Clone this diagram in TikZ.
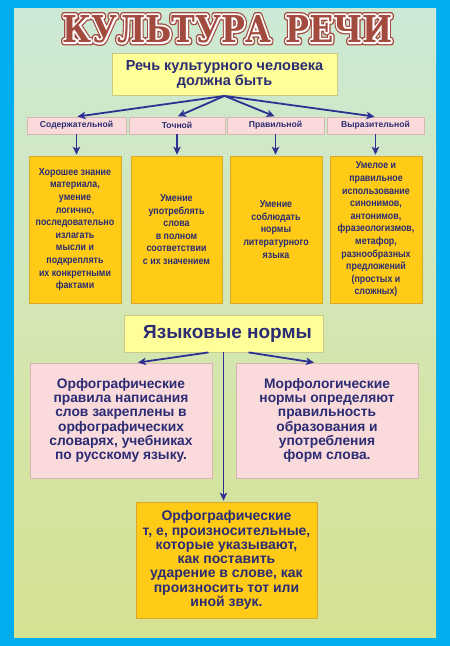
\documentclass[tikz,border=0pt]{standalone}
\usepackage{fontspec}
\setmainfont{Liberation Sans}
\newfontfamily\narrowfont[FakeStretch=0.87]{Liberation Sans}
\newfontfamily\titlefont{DejaVu Serif}
\usetikzlibrary{arrows.meta,calc}
\definecolor{frameblue}{HTML}{00AEEF}
\definecolor{bgtop}{HTML}{CCE9D6}
\definecolor{bgmid}{HTML}{D4E6B2}
\definecolor{bgbot}{HTML}{D4E291}
\definecolor{navy}{HTML}{2B2C73}
\definecolor{arrowc}{HTML}{2E3192}
\definecolor{paleyellow}{HTML}{FFFF99}
\definecolor{paleedge}{HTML}{C9C98A}
\definecolor{gold}{HTML}{FFCB16}
\definecolor{goldedge}{HTML}{D9A82A}
\definecolor{pinkfill}{HTML}{FADADB}
\definecolor{pinkedge}{HTML}{D7B5B0}
\definecolor{titlebrown}{HTML}{A34A3E}
\newcommand{\ttlword}{\scalebox{0.86}[1]{КУЛЬТУРА\hspace{0.45em}РЕЧИ}}
\newcommand{\ttlouter}{\special{pdf:literal direct q 2 Tr 6.4 w 1 j 0.639 0.29 0.243 RG}\ttlword\special{pdf:literal direct Q}}
\newcommand{\ttlring}{\special{pdf:literal direct q 2 Tr 3.8 w 1 j 1 1 1 RG}\ttlword\special{pdf:literal direct Q}}
\begin{document}
\begin{tikzpicture}[x=1pt,y=-1pt,
  hdr/.style={draw=paleedge, fill=paleyellow, line width=0.8pt, text=navy, align=center, inner sep=0pt},
  lbl/.style={draw=pinkedge, fill=pinkfill, line width=0.6pt, text=navy, align=center, inner sep=0pt,
    minimum height=17pt, font=\bfseries\fontsize{8.6}{10}\selectfont},
  goldbox/.style={draw=goldedge, fill=gold, line width=0.6pt, text=navy, align=center, inner sep=0pt,
    minimum height=147pt, font=\narrowfont\bfseries\fontsize{10.2}{12.6}\selectfont},
  pinkbox/.style={draw=pinkedge, fill=pinkfill, line width=0.6pt, text=navy, align=center, inner sep=0pt,
    minimum width=182pt, minimum height=115pt, font=\bfseries\fontsize{13.8}{14.2}\selectfont},
  arr/.style={draw=arrowc, line width=1.8pt, -{Stealth[length=8pt,width=7.5pt,inset=2pt]}, shorten >=1pt},
  titletext/.style={inner sep=0pt, text=titlebrown, font=\titlefont\bfseries\fontsize{37}{40}\selectfont}
]
\useasboundingbox (0,0) rectangle (450,646);
\fill[frameblue] (0,0) rectangle (450,646);
\shade[top color=bgtop, bottom color=bgbot, middle color=bgmid] (14,8) rectangle (436,637);

% title: outer brown ring, white ring, brown core
\node[titletext] (titleouter) at (227.5,29) {\ttlouter};
\node[titletext] (titlering) at (227.5,29) {\ttlring};
\node[titletext] (title) at (227.5,29) {\ttlword};

% header
\node[hdr, minimum width=225pt, minimum height=42pt, font=\bfseries\fontsize{14.5}{15.5}\selectfont]
  (top) at (224.5,74.5) {Речь культурного человека\\должна быть};

\node[lbl, minimum width=99pt] (l1) at (76.5,125.5) {Содержательной};
\node[lbl, minimum width=96pt] (l2) at (177,125.5) {Точной};
\node[lbl, minimum width=97pt] (l3) at (275.5,125.5) {Правильной};
\node[lbl, minimum width=97pt] (l4) at (375.5,125.5) {Выразительной};

\node[goldbox, minimum width=92pt] (b1) at (75,229.5) {Хорошее знание\\материала,\\умение\\логично,\\последовательно\\излагать\\мысли и\\подкреплять\\их конкретными\\фактами};
\node[goldbox, minimum width=91pt] (b2) at (176.5,229.5) {Умение\\употреблять\\слова\\в полном\\соответствии\\с их значением};
\node[goldbox, minimum width=92pt] (b3) at (276,229.5) {Умение\\соблюдать\\нормы\\литературного\\языка};
\node[goldbox, minimum width=92pt] (b4) at (376,229.5) {Умелое и\\правильное\\использование\\синонимов,\\антонимов,\\фразеологизмов,\\метафор,\\разнообразных\\предложений\\(простых и\\сложных)};

\foreach \i in {1,2,3,4} {
  \draw[arr] (top.south) -- (l\i.north);
  \draw[arr] (l\i.south) -- (l\i.south |- b\i.north);
}

% norms
\node[hdr, minimum width=199pt, minimum height=37pt, font=\bfseries\fontsize{19}{21}\selectfont]
  (yn) at (223.5,333.5) {\hspace{8pt}Языковые нормы};

\node[pinkbox] (p1) at (121,420.5) {Орфографические\\правила написания\\слов закреплены в\\орфографических\\словарях, учебниках\\по русскому языку.};
\node[pinkbox] (p2) at (327,420.5) {Морфологические\\нормы определяют\\правильность\\образования и\\употребления\\форм слова.};

\node[goldbox, minimum width=181pt, minimum height=116pt, font=\bfseries\fontsize{14}{14.3}\selectfont]
  (bb) at (226.5,560) {Орфографические\\т, е, произносительные,\\которые указывают,\\как поставить\\ударение в слове, как\\произносить тот или\\иной звук.};

\coordinate (yl) at ($(yn.south)+(-15,0)$);
\coordinate (yr) at ($(yn.south)+(25,0)$);
\coordinate (p1t) at ($(p1.north)+(16,0)$);
\coordinate (p2t) at ($(p2.north)+(-12,0)$);
\draw[arr] (yl) -- (p1t);
\draw[arr] (yr) -- (p2t);
\draw[arr] (yn.south) -- (yn.south |- bb.north);
\end{tikzpicture}
\end{document}
